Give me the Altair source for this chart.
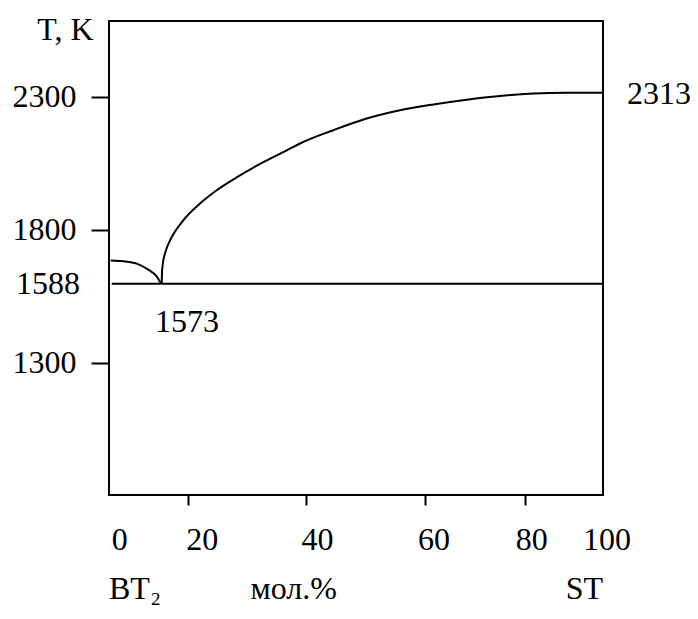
import altair as alt
import pandas as pd

# ---- data ----
# liquidus branch towards ST (mol.% ST, T in K)
liq_x = [10.67, 10.73, 10.83, 10.99, 11.28, 11.68, 12.35, 15.04, 18.42, 21.80,
         26.52, 31.23, 35.97, 38.66, 45.40, 52.17, 58.91, 65.65, 72.41, 79.15,
         85.89, 92.65, 100.0]
liq_t = [1597, 1641, 1662, 1685, 1707, 1731, 1760, 1836, 1899, 1949,
         2005, 2055, 2099, 2125, 2175, 2219, 2250, 2272, 2290, 2304,
         2313, 2316, 2316]
# liquidus branch near BT2
left_x = [0.34, 2.89, 5.61, 7.96, 9.66, 10.53]
left_t = [1685, 1682, 1673, 1650, 1625, 1597]
# eutectic horizontal
eut_x = [0.55, 100.0]
eut_t = [1597, 1597]

y_ticks = [1300, 1800, 2300]
x_ticks = [16.0, 39.8, 64.0, 84.2]
x_label_text = ["0", "20", "40", "60", "80", "100"]
x_label_pos = [2.2, 18.9, 42.2, 65.8, 85.6, 100.8]

rows = []
for x, t in zip(liq_x, liq_t):
    rows.append({"x": x, "t": t, "s": "liq"})
for x, t in zip(left_x, left_t):
    rows.append({"x": x, "t": t, "s": "left"})
for x, t in zip(eut_x, eut_t):
    rows.append({"x": x, "t": t, "s": "eut"})
lines_df = pd.DataFrame(rows)

FONT = "Liberation Serif"
FS = 32

xs = alt.Scale(domain=[0, 100], nice=False, zero=False)
ys = alt.Scale(domain=[802, 2586], nice=False, zero=False)

curves = alt.Chart(lines_df).mark_line(
    color="black", strokeWidth=2, interpolate="monotone"
).encode(
    x=alt.X("x:Q", scale=xs, axis=alt.Axis(
        values=x_ticks, labels=False, title=None, domain=False, grid=False,
        tickSize=10, tickWidth=2, tickColor="black")),
    y=alt.Y("t:Q", scale=ys, axis=alt.Axis(
        values=y_ticks, format="d", title="T, K", titleAngle=0, titleAlign="right",
        titleBaseline="middle", titleX=-16, titleY=8, titleFont=FONT,
        titleFontSize=FS, titleFontWeight="normal", titleColor="black",
        labelFont=FONT, labelFontSize=FS, labelColor="black", labelPadding=15,
        domain=False, grid=False, tickSize=18, tickWidth=2, tickColor="black")),
    detail="s:N",
)

xlab_df = pd.DataFrame({"x": x_label_pos, "txt": x_label_text})
xlabels = alt.Chart(xlab_df).mark_text(
    font=FONT, fontSize=FS, color="black", align="center", baseline="middle"
).encode(x=alt.X("x:Q", scale=xs), y=alt.value(519), text="txt:N")

bottom_x = [0.0, 37.4, 100.0]
bottom_txt = ["BT₂", "мол.%", "ST"]
bottom_align = ["left", "center", "right"]
bottom_layers = []
for bx, bt, ba in zip(bottom_x, bottom_txt, bottom_align):
    bottom_layers.append(
        alt.Chart(pd.DataFrame({"x": [bx], "txt": [bt]})).mark_text(
            font=FONT, fontSize=FS, color="black", align=ba, baseline="middle"
        ).encode(x=alt.X("x:Q", scale=xs), y=alt.value(568), text="txt:N")
    )

ann_df = pd.DataFrame({"x": [15.8], "t": [1452], "txt": ["1573"]})
ann = alt.Chart(ann_df).mark_text(
    font=FONT, fontSize=FS, color="black", align="center", baseline="middle"
).encode(x=alt.X("x:Q", scale=xs), y=alt.Y("t:Q", scale=ys), text="txt:N")

l1588_df = pd.DataFrame({"t": [1597], "txt": ["1588"]})
l1588 = alt.Chart(l1588_df).mark_text(
    font=FONT, fontSize=FS, color="black", align="right", baseline="middle"
).encode(x=alt.value(-29), y=alt.Y("t:Q", scale=ys), text="txt:N")

l2313_df = pd.DataFrame({"t": [2313], "txt": ["2313"]})
l2313 = alt.Chart(l2313_df).mark_text(
    font=FONT, fontSize=FS, color="black", align="left", baseline="middle"
).encode(x=alt.value(518), y=alt.Y("t:Q", scale=ys), text="txt:N")

chart = alt.layer(
    curves, xlabels, *bottom_layers, ann, l1588, l2313
).properties(
    width=494, height=474,
    autosize=alt.AutoSizeParams(type="none"),
    padding={"left": 101, "top": 13, "right": 87, "bottom": 114},
    background="white",
).configure_view(stroke="black", strokeWidth=2)

chart.save("out.html", embed_options={"renderer": "svg", "actions": False})
